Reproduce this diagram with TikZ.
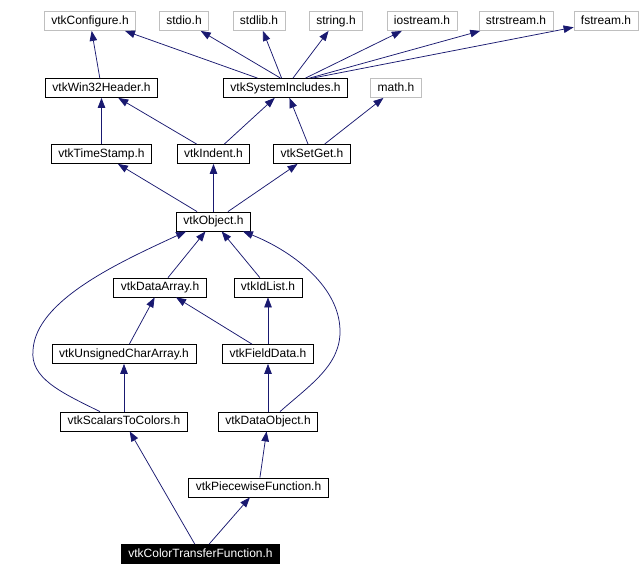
\documentclass[tikz,border=0pt]{standalone}
\usepackage{fontspec}
\setmainfont{Liberation Sans}
\usepackage{xcolor}
\usepackage{tikz}
\usetikzlibrary{arrows.meta,calc}
\definecolor{navy}{HTML}{191970}
\definecolor{rim}{HTML}{BFBFBF}

\begin{document}
\begin{tikzpicture}[x=1pt, y=-1pt,
  hdr/.style={draw=black, line width=0.8pt, fill=white, minimum height=19pt, inner xsep=7pt, inner ysep=0pt, text height=8.8pt, text depth=2.4pt, font=\fontsize{12}{14}\selectfont},
  sys/.style={hdr, draw=rim},
  focus/.style={hdr, fill=black, text=white},
  dep/.style={draw=navy, line width=0.75pt, -{Triangle[length=10pt,width=7.5pt]}}
]
  \useasboundingbox (0,0) rectangle (640,576);
  \node[sys] (conf) at (90,21) {vtkConfigure.h};
  \node[sys] (stdio) at (184,21) {stdio.h};
  \node[sys] (stdlib) at (259,21) {stdlib.h};
  \node[sys] (string) at (336,21) {string.h};
  \node[sys] (iostream) at (422,21) {iostream.h};
  \node[sys] (strstream) at (516,21) {strstream.h};
  \node[sys] (fstream) at (606,21) {fstream.h};
  \node[hdr] (win) at (101.5,88) {vtkWin32Header.h};
  \node[hdr] (sysinc) at (285.5,88) {vtkSystemIncludes.h};
  \node[sys] (math) at (396,88) {math.h};
  \node[hdr] (stamp) at (101.5,154) {vtkTimeStamp.h};
  \node[hdr] (indent) at (213.5,154) {vtkIndent.h};
  \node[hdr] (setget) at (312,154) {vtkSetGet.h};
  \node[hdr] (obj) at (213.5,221.5) {vtkObject.h};
  \node[hdr] (darray) at (160,287.5) {vtkDataArray.h};
  \node[hdr] (idlist) at (268,287.5) {vtkIdList.h};
  \node[hdr] (ucarray) at (124,354) {vtkUnsignedCharArray.h};
  \node[hdr] (fdata) at (268,354) {vtkFieldData.h};
  \node[hdr] (s2c) at (124,421.5) {vtkScalarsToColors.h};
  \node[hdr] (dobj) at (268,421.5) {vtkDataObject.h};
  \node[hdr] (pwf) at (258.5,487.5) {vtkPiecewiseFunction.h};
  \node[focus] (ctf) at (200.5,554) {vtkColorTransferFunction.h};

  \draw[dep] (win) -- (conf);
  \draw[dep] ([xshift=-28pt]sysinc.north) -- ([xshift=35pt]conf.south);
  \draw[dep] ([xshift=-5pt]sysinc.north) -- (stdio);
  \draw[dep] (sysinc) -- (stdlib);
  \draw[dep] (sysinc) -- (string);
  \draw[dep] ([xshift=20pt]sysinc.north) -- (iostream);
  \draw[dep] ([xshift=24pt]sysinc.north) -- (strstream);
  \draw[dep] ([xshift=27pt]sysinc.north) -- (fstream);
  \draw[dep] (stamp) -- (win);
  \draw[dep] (indent) -- (win);
  \draw[dep] (indent) -- (sysinc);
  \draw[dep] (setget) -- (sysinc);
  \draw[dep] (setget) -- (math);
  \draw[dep] (obj) -- (stamp);
  \draw[dep] (obj) -- (indent);
  \draw[dep] (obj) -- (setget);
  \draw[dep] (darray) -- (obj);
  \draw[dep] (idlist) -- (obj);
  \draw[dep] ([xshift=-24pt]s2c.north) .. controls (60,392) and (30,378) .. (33,350)
    .. controls (36,300) and (120,262) .. ([xshift=10pt]obj.south west);
  \draw[dep] ([xshift=12pt]dobj.north) .. controls (310,385) and (341,365) .. (340,330)
    .. controls (339,285) and (290,250) .. ([xshift=-8pt]obj.south east);
  \draw[dep] (ucarray) -- (darray);
  \draw[dep] (fdata) -- (darray);
  \draw[dep] (fdata) -- (idlist);
  \draw[dep] (s2c) -- (ucarray);
  \draw[dep] (dobj) -- (fdata);
  \draw[dep] (pwf) -- (dobj);
  \draw[dep] (ctf) -- (s2c);
  \draw[dep] (ctf) -- (pwf);
\end{tikzpicture}
\end{document}
